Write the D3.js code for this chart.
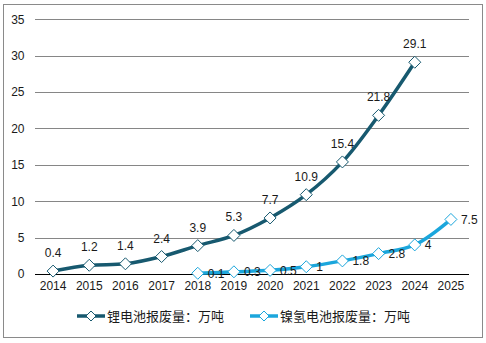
<!DOCTYPE html>
<html>
<head>
<meta charset="utf-8">
<script src="https://cdn.jsdelivr.net/npm/d3@7"></script>
<style>
  html, body { margin: 0; padding: 0; background: #fff; }
  svg { display: block; }
  text { font-family: "Liberation Sans", Arial, sans-serif; fill: #1a1a1a; }
  .legend text { font-family: "Noto Sans CJK SC", sans-serif; }
</style>
</head>
<body>
<svg id="chart" width="486" height="343"></svg>
<script>
// Years on the horizontal axis
const years = ["2014","2015","2016","2017","2018","2019","2020","2021","2022","2023","2024","2025"];

// Scrapped lithium batteries (10k tonnes), 2014–2024
const lithiumYears = ["2014","2015","2016","2017","2018","2019","2020","2021","2022","2023","2024"];
const lithiumValues = [0.4, 1.2, 1.4, 2.4, 3.9, 5.3, 7.7, 10.9, 15.4, 21.8, 29.1];

// Scrapped nickel-metal-hydride batteries (10k tonnes), 2018–2025
const nimhYears = ["2018","2019","2020","2021","2022","2023","2024","2025"];
const nimhValues = [0.1, 0.3, 0.5, 1, 1.8, 2.8, 4, 7.5];

const yTicks = [0, 5, 10, 15, 20, 25, 30, 35];
const seriesNames = ["锂电池报废量：万吨", "镍氢电池报废量：万吨"];

const darkColor = "#17596F";
const lightColor = "#1BA6DC";

const svg = d3.select("#chart");

// outer frame
svg.append("rect")
  .attr("x", 3.5).attr("y", 4.5)
  .attr("width", 479).attr("height", 333)
  .attr("fill", "none").attr("stroke", "#8a8a8a").attr("stroke-width", 1);

const x = d3.scaleBand().domain(years).range([35, 469]).padding(0);
const cx = d => x(d) + x.bandwidth() / 2;
const y = d3.scaleLinear().domain([0, 35]).range([274, 19.3]);

// horizontal grid lines
svg.append("g").selectAll("line")
  .data(yTicks)
  .join("line")
  .attr("x1", 35).attr("x2", 469)
  .attr("y1", d => Math.round(y(d)) + 0.5)
  .attr("y2", d => Math.round(y(d)) + 0.5)
  .attr("stroke", d => d === 0 ? "#000" : "#868686")
  .attr("stroke-width", 1);

// y-axis labels
const yAxis = d3.axisLeft(y).tickValues(yTicks).tickSize(0).tickPadding(0);
const gy = svg.append("g").attr("transform", "translate(24.5,0)").call(yAxis);
gy.select(".domain").remove();
gy.selectAll("text").attr("font-size", 12).attr("font-family", "Liberation Sans, Arial, sans-serif").attr("fill", "#1a1a1a");

// x-axis labels
const xAxis = d3.axisBottom(x).tickSize(0).tickPadding(0);
const gx = svg.append("g").attr("transform", "translate(0,281)").call(xAxis);
gx.select(".domain").remove();
gx.selectAll("text").attr("font-size", 12).attr("font-family", "Liberation Sans, Arial, sans-serif").attr("fill", "#1a1a1a");

const line = d3.line()
  .x(d => cx(d.year))
  .y(d => y(d.value))
  .curve(d3.curveCatmullRom.alpha(0.5));

const lithium = lithiumYears.map((yr, i) => ({ year: yr, value: lithiumValues[i] }));
const nimh = nimhYears.map((yr, i) => ({ year: yr, value: nimhValues[i] }));

const diamond = (s) => `M0,${-s}L${s},0L0,${s}L${-s},0Z`;

function drawSeries(data, color) {
  svg.append("path")
    .datum(data)
    .attr("d", line)
    .attr("fill", "none")
    .attr("stroke", color)
    .attr("stroke-width", 3.5)
    .attr("stroke-linejoin", "round");
  svg.append("g").selectAll("path")
    .data(data)
    .join("path")
    .attr("transform", d => `translate(${cx(d.year)},${y(d.value)})`)
    .attr("d", diamond(6))
    .attr("fill", "#fff")
    .attr("stroke", color)
    .attr("stroke-width", 1);
}

drawSeries(nimh, lightColor);
drawSeries(lithium, darkColor);

// value labels: lithium above points
svg.append("g").selectAll("text")
  .data(lithium)
  .join("text")
  .attr("x", d => cx(d.year))
  .attr("y", d => y(d.value) - 14)
  .attr("text-anchor", "middle")
  .attr("font-size", 12)
  .text(d => d.value);

// value labels: NiMH right of points
svg.append("g").selectAll("text")
  .data(nimh)
  .join("text")
  .attr("x", d => cx(d.year) + 10)
  .attr("y", d => y(d.value) + 4.5)
  .attr("text-anchor", "start")
  .attr("font-size", 12)
  .text(d => d.value);

// legend
const legend = svg.append("g").attr("class", "legend");
const legendItems = [
  { name: seriesNames[0], color: darkColor, x0: 77 },
  { name: seriesNames[1], color: lightColor, x0: 250 }
];
const ly = 316;
legendItems.forEach(it => {
  legend.append("line")
    .attr("x1", it.x0).attr("x2", it.x0 + 28)
    .attr("y1", ly).attr("y2", ly)
    .attr("stroke", it.color).attr("stroke-width", 3.5);
  legend.append("path")
    .attr("transform", `translate(${it.x0 + 14},${ly})`)
    .attr("d", diamond(5))
    .attr("fill", "#fff")
    .attr("stroke", it.color)
    .attr("stroke-width", 1);
  legend.append("text")
    .attr("x", it.x0 + 30)
    .attr("y", ly + 4.5)
    .attr("font-size", 13)
    .text(it.name);
});
</script>
</body>
</html>
